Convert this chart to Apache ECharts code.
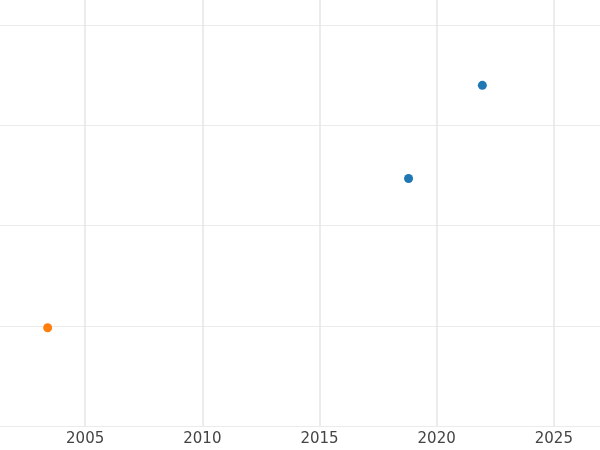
<!DOCTYPE html>
<html>
<head>
<meta charset="utf-8">
<script src="https://cdn.jsdelivr.net/npm/echarts@6/dist/echarts.min.js"></script>
<style>html,body{margin:0;padding:0;background:#fff}#chart{width:600px;height:450px}</style>
</head>
<body>
<div id="chart"></div>
<script>
const blueYears = [2018.8, 2021.95];
const blueValues = [2.47, 3.4];
const orangeYears = [2003.4];
const orangeValues = [0.98];

const chart = echarts.init(document.getElementById('chart'), null, { renderer: 'canvas' });
chart.setOption({
  animation: false,
  grid: { left: -32, right: -71, top: -75, bottom: 24, containLabel: false, outerBoundsMode: 'none' },
  xAxis: {
    type: 'value', min: 2000, max: 2030, interval: 5,
    axisLine: { show: false }, axisTick: { show: false },
    splitLine: { lineStyle: { color: '#e6e6e6', width: 1.5 } },
    axisLabel: { color: '#444', fontSize: 15, fontFamily: 'DejaVu Sans', margin: 6, formatter: (v) => String(v) }
  },
  yAxis: {
    type: 'value', min: 0, max: 5, interval: 1,
    axisLine: { show: false }, axisTick: { show: false },
    axisLabel: { show: false },
    splitLine: { lineStyle: { color: '#ebebeb', width: 1.2 } }
  },
  series: [
    { type: 'scatter', symbolSize: 9, itemStyle: { color: '#1f77b4', opacity: 1 },
      data: blueYears.map((x, i) => [x, blueValues[i]]) },
    { type: 'scatter', symbolSize: 9, itemStyle: { color: '#ff7f0e', opacity: 1 },
      data: orangeYears.map((x, i) => [x, orangeValues[i]]) }
  ]
});
</script>
</body>
</html>
